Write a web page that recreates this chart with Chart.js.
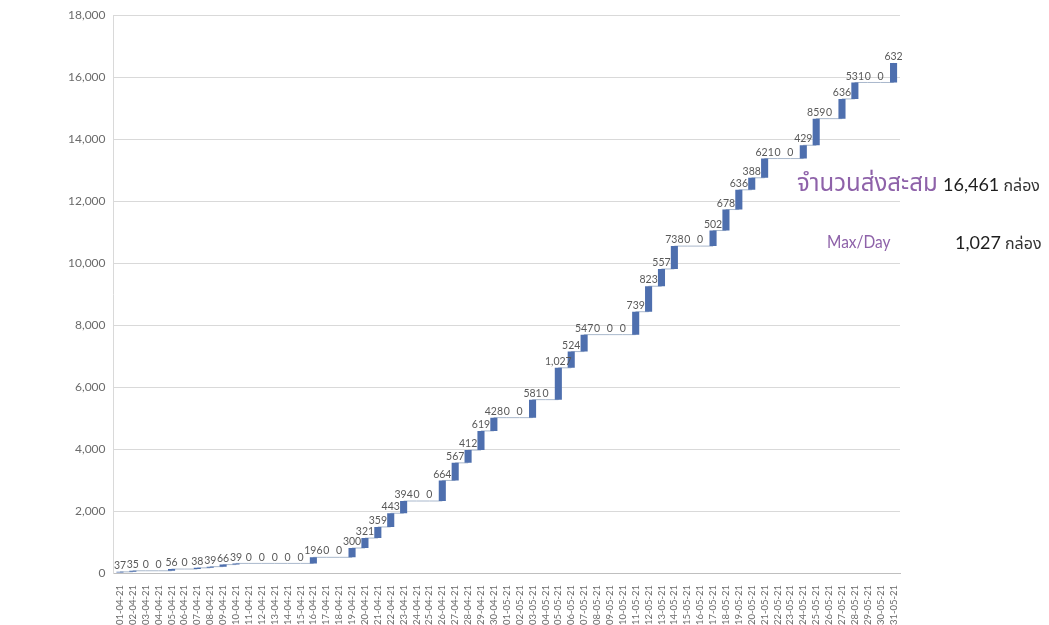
<!DOCTYPE html>
<html>
<head>
<meta charset="utf-8">
<script src="https://cdn.jsdelivr.net/npm/chart.js@4/dist/chart.umd.min.js"></script>
<style>
  html, body { margin: 0; padding: 0; background: #fff; }
  #wrap { position: relative; width: 1049px; height: 625px; }
  .note { position: absolute; white-space: nowrap; font-family: Lato, "Noto Sans Thai", "Noto Sans", sans-serif; }
  .purple { color: #8e62a9; }
  .num { color: #1e1e1e; font-size: 18px; }
  .unit { color: #333; font-size: 16px; }
</style>
</head>
<body>
<div id="wrap">
  <canvas id="chart" width="1049" height="625"></canvas>
  <div class="note purple" style="left:797px; top:166px; font-size:24px;">จำนวนส่งสะสม</div>
  <div class="note" style="left:943px; top:173px;">
    <span class="num">16,461</span>
    <span class="unit">กล่อง</span>
  </div>
  <div class="note purple" style="left:827px; top:230px; font-size:18px; transform:scaleX(0.86); transform-origin:left center;">Max/Day</div>
  <div class="note" style="left:955px; top:231px;">
    <span class="num">1,027</span>
    <span class="unit">กล่อง</span>
  </div>
</div>
<script>
const dates = [
  "01-04-21","02-04-21","03-04-21","04-04-21","05-04-21","06-04-21","07-04-21","08-04-21","09-04-21","10-04-21",
  "11-04-21","12-04-21","13-04-21","14-04-21","15-04-21","16-04-21","17-04-21","18-04-21","19-04-21","20-04-21",
  "21-04-21","22-04-21","23-04-21","24-04-21","25-04-21","26-04-21","27-04-21","28-04-21","29-04-21","30-04-21",
  "01-05-21","02-05-21","03-05-21","04-05-21","05-05-21","06-05-21","07-05-21","08-05-21","09-05-21","10-05-21",
  "11-05-21","12-05-21","13-05-21","14-05-21","15-05-21","16-05-21","17-05-21","18-05-21","19-05-21","20-05-21",
  "21-05-21","22-05-21","23-05-21","24-05-21","25-05-21","26-05-21","27-05-21","28-05-21","29-05-21","30-05-21",
  "31-05-21"
];

// boxes sent per day
const daily = [
  37, 35, 0, 0, 56, 0, 38, 39, 66, 39,
  0, 0, 0, 0, 0, 196, 0, 0, 300, 321,
  359, 443, 394, 0, 0, 664, 567, 412, 619, 428,
  0, 0, 581, 0, 1027, 524, 547, 0, 0, 0,
  739, 823, 557, 738, 0, 0, 502, 678, 636, 388,
  621, 0, 0, 429, 859, 0, 636, 531, 0, 0,
  632
];

const yTicks = [0, 2000, 4000, 6000, 8000, 10000, 12000, 14000, 16000, 18000];

// running total -> floating bars
const totals = [];
const floating = [];
let run = 0;
daily.forEach(v => {
  floating.push([run, run + v]);
  run += v;
  totals.push(run);
});

const fmt = n => n.toLocaleString("en-US");

const barLabels = {
  id: "barLabels",
  afterDatasetsDraw(chart) {
    const ctx = chart.ctx;
    const meta = chart.getDatasetMeta(0);
    ctx.save();
    ctx.font = "10.5px Lato, sans-serif";
    ctx.fillStyle = "#595959";
    ctx.textAlign = "center";
    ctx.textBaseline = "bottom";
    meta.data.forEach((bar, i) => {
      const top = Math.min(bar.y, bar.base);
      ctx.fillText(fmt(daily[i]), bar.x, top - 1);
    });
    ctx.restore();
  }
};

new Chart(document.getElementById("chart"), {
  type: "bar",
  data: {
    labels: dates,
    datasets: [{
      data: floating,
      backgroundColor: "#4e6fae",
      barPercentage: 0.55,
      categoryPercentage: 1,
      order: 1
    }, {
      // connectors: horizontal at each running total, vertical step hidden behind next bar
      type: "line",
      data: totals,
      stepped: "before",
      borderColor: "#a9b8cc",
      borderWidth: 1,
      pointRadius: 0,
      fill: false,
      order: 2
    }]
  },
  options: {
    responsive: false,
    animation: false,
    layout: { padding: { left: 60, right: 149, top: 7, bottom: 0 } },
    plugins: { legend: { display: false }, tooltip: { enabled: false } },
    scales: {
      x: {
        grid: { display: false },
        border: { color: "#bfbfbf" },
        afterFit: axis => { axis.height = 52; },
        ticks: {
          autoSkip: false,
          minRotation: 90,
          maxRotation: 90,
          color: "#6b6b6b",
          font: { family: "Lato", size: 9.5 },
          padding: 4
        }
      },
      y: {
        min: 0,
        max: 18000,
        afterBuildTicks: axis => { axis.ticks = yTicks.map(v => ({ value: v })); },
        grid: { color: "#d9d9d9", drawTicks: false },
        border: { color: "#d9d9d9" },
        ticks: {
          color: "#6b6b6b",
          font: { family: "Lato", size: 12 },
          padding: 8,
          callback: v => fmt(v)
        }
      }
    }
  },
  plugins: [barLabels]
});
</script>
</body>
</html>
